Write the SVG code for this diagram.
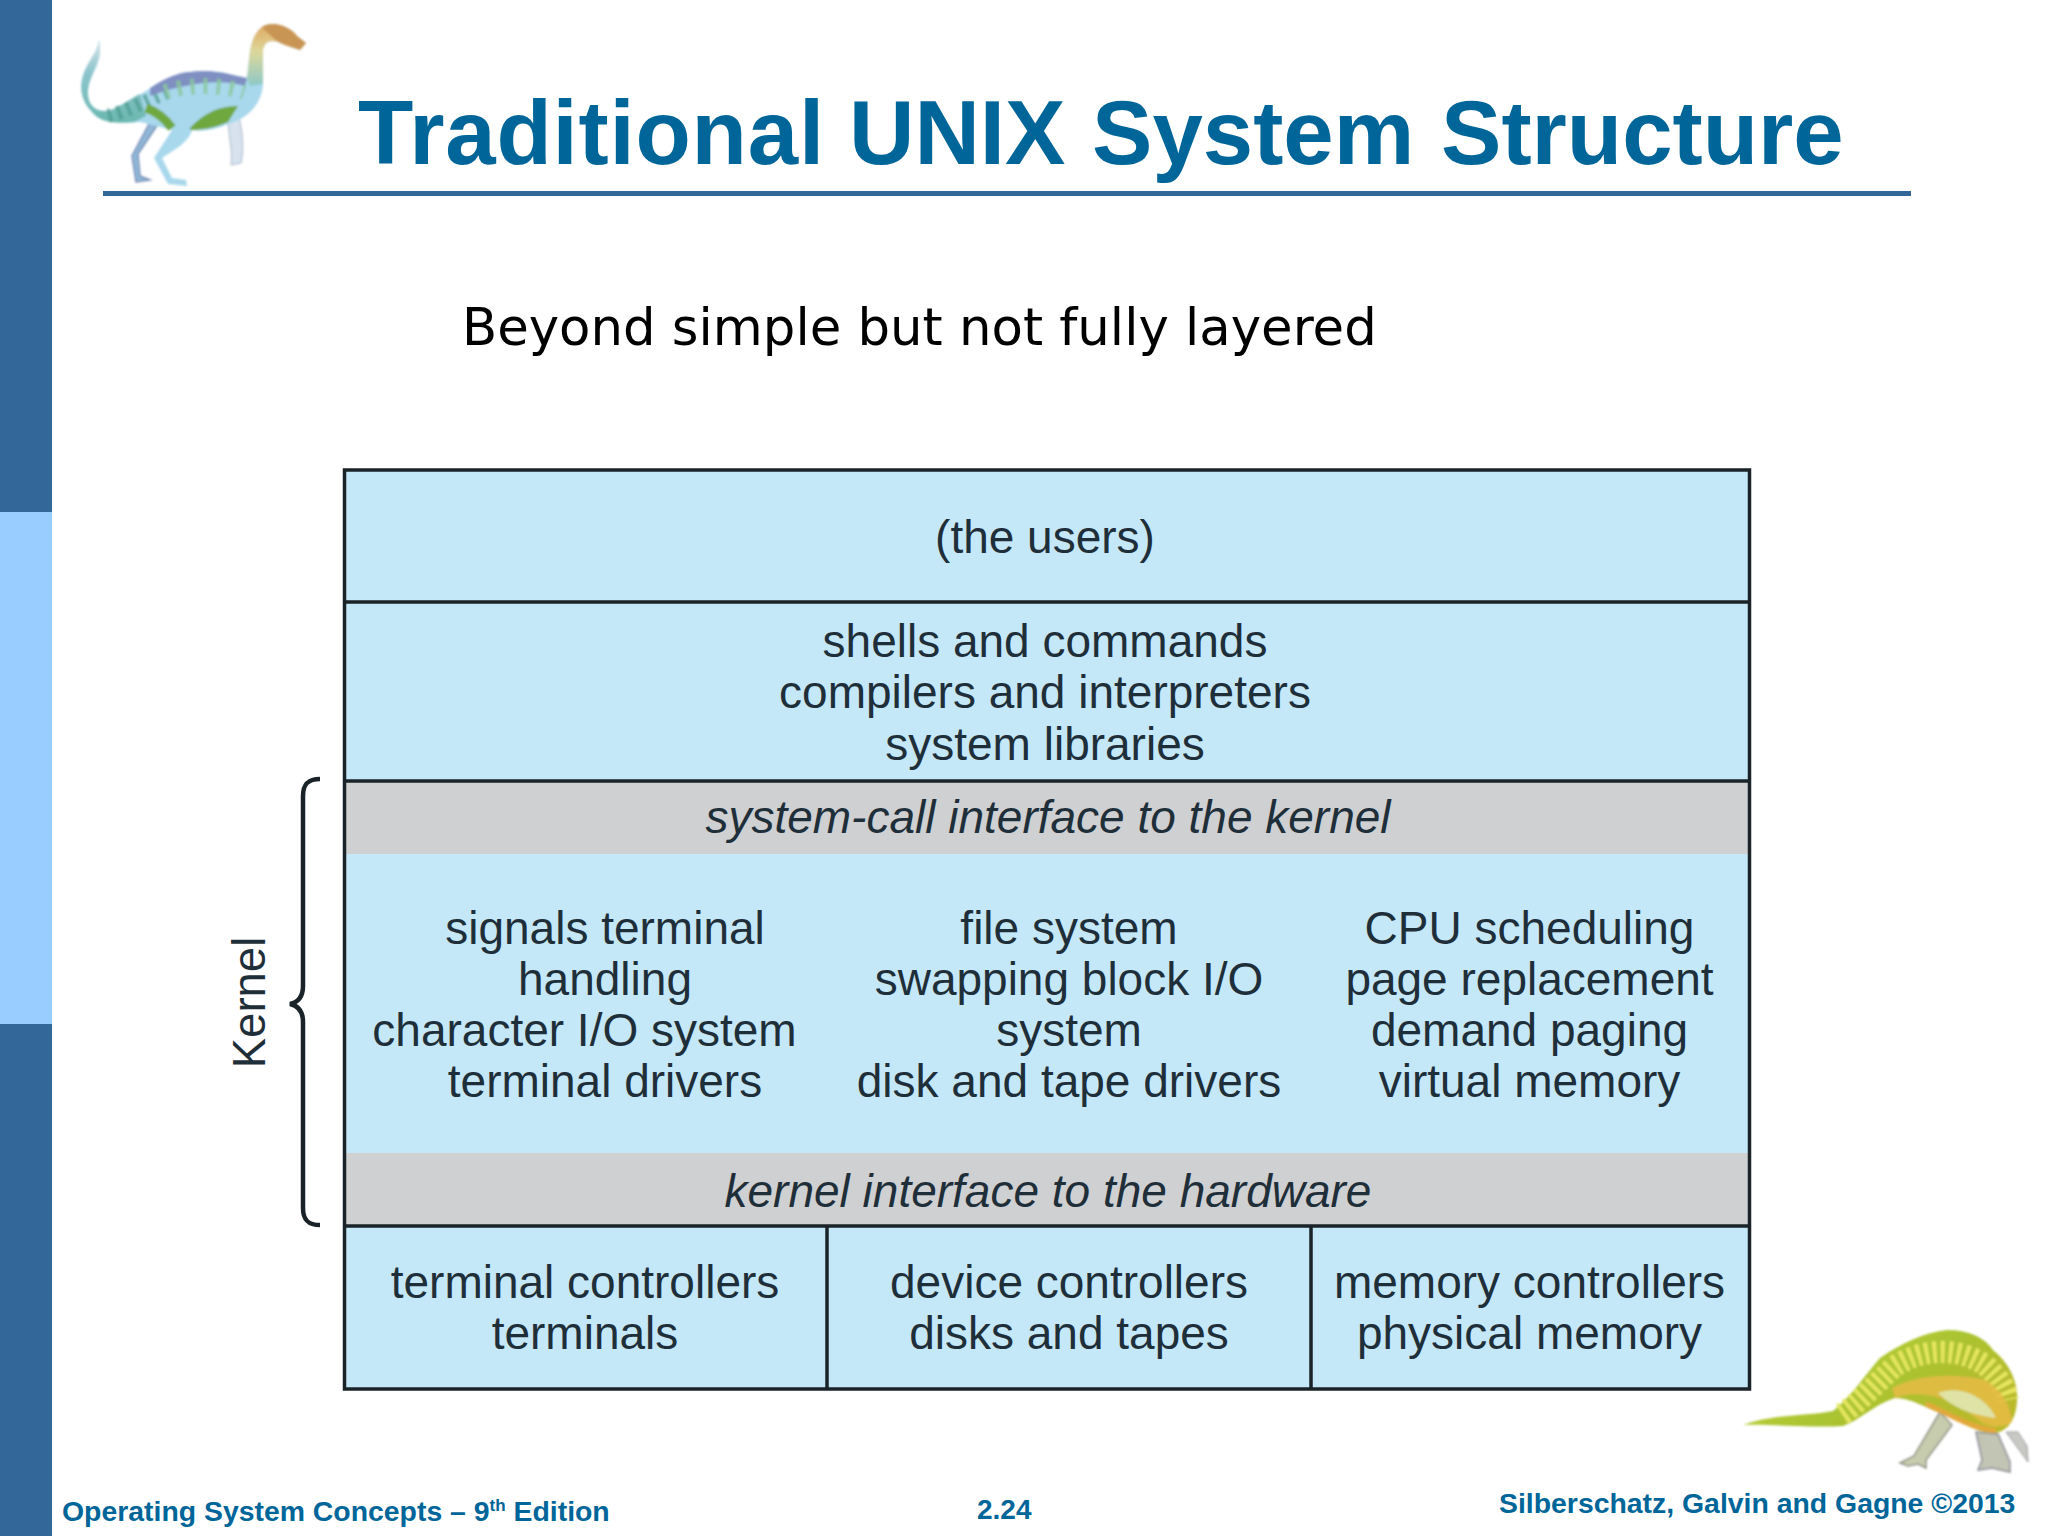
<svg xmlns="http://www.w3.org/2000/svg" width="2048" height="1536" viewBox="0 0 2048 1536">
<style>
.t{font-family:"Liberation Sans",Arial,sans-serif;font-size:46px;fill:#1f2f3a;text-anchor:middle}
.i{font-style:italic}
.b{fill:#c5e8f9}
.g{fill:#cfd0d2}
.ln{stroke:#1a2328;stroke-width:3.5;fill:none}
.f{font-family:"Liberation Sans",Arial,sans-serif;font-weight:bold;fill:#006699}
</style>
<defs>
<filter id="soft" x="-10%" y="-10%" width="120%" height="120%"><feGaussianBlur stdDeviation="0.8"/></filter>
<linearGradient id="neck" x1="0" y1="0" x2="0" y2="1"><stop offset="0" stop-color="#e2a860"/><stop offset="0.45" stop-color="#dcd79a"/><stop offset="1" stop-color="#8cc8c8"/></linearGradient>
<linearGradient id="tail" x1="0" y1="0" x2="0" y2="1"><stop offset="0" stop-color="#d7e6ea"/><stop offset="0.4" stop-color="#8cc4cc"/><stop offset="1" stop-color="#6cb8b0"/></linearGradient>
<linearGradient id="yellowBody" x1="0" y1="0" x2="1" y2="0.6"><stop offset="0" stop-color="#d0d844"/><stop offset="0.6" stop-color="#a9c430"/><stop offset="1" stop-color="#b9b92c"/></linearGradient>
</defs>
<rect width="2048" height="1536" fill="#fff"/>
<g id="sidebar">
<rect x="0" y="0" width="52" height="1536" fill="#336699"/>
<rect x="0" y="512" width="52" height="512" fill="#99ccff"/>
</g>
<g id="dino-blue" filter="url(#soft)">
<path d="M228 116L238 114C243 130 244 150 241 163L231 165C233 150 228 135 228 116Z" fill="#d7e2ee" stroke="#a9b8cc" stroke-width="1"/>
<path d="M158 124L138 154L140 176L150 180L136 182L132 156L150 122Z" fill="#8fb8d8" stroke="#7a90b8" stroke-width="1.5"/>
<path d="M99 40C104 62 90 72 88 90C87 104 94 112 108 111C132 104 160 76 190 72C215 68 235 76 247 78C250 60 248 38 262 27C272 20 290 26 297 36L306 43L300 50L288 46C275 40 265 38 263 50L263 84C262 102 250 118 228 124C215 130 200 132 192 130C190 138 184 142 180 146L162 158L172 178L186 180L187 186L168 184L154 158L172 130L140 122C120 124 100 122 92 112C80 100 78 84 86 68C92 56 98 50 99 40Z" fill="#a8d8ec"/>
<path d="M99 40C104 62 90 72 88 90C87 104 94 112 108 111C118 108 128 100 140 94L146 116L134 122C112 124 100 122 92 112C80 100 78 84 86 68C92 56 98 50 99 40Z" fill="url(#tail)"/>
<path d="M108 116C125 112 148 100 172 90" fill="none" stroke="#4f9e92" stroke-width="14" stroke-dasharray="4 6" opacity=".75"/>
<path d="M150 88C165 78 180 72 190 72C215 68 235 76 247 78L245 86C225 80 195 80 150 96Z" fill="#7f8fc2"/>
<path d="M165 92C190 84 220 84 244 92" fill="none" stroke="#8ac89a" stroke-width="16" stroke-dasharray="4 9" opacity=".8"/>
<path d="M247 78C250 60 248 38 262 27C272 20 290 26 297 36L306 43L300 50L288 46C275 40 265 38 263 50L263 84L250 86Z" fill="url(#neck)"/>
<path d="M262 27C272 20 290 26 297 36L306 43L300 50L288 46C280 44 272 38 262 27Z" fill="#c99555"/>
<path d="M190 128C205 112 220 106 238 106L228 122C215 128 202 130 190 130Z" fill="#6fa83f"/>
<path d="M146 108C158 112 166 120 172 128" fill="none" stroke="#6fa83f" stroke-width="9"/>
</g>
<g id="title">
<text class="f" y="164" font-size="90.6"><tspan x="358" letter-spacing="0.8">Traditional</tspan><tspan x="849">UNIX</tspan><tspan x="1092">System</tspan><tspan x="1441">Structure</tspan></text>
<rect x="103" y="191" width="1808" height="5" fill="#336699"/>
</g>
<g id="subtitle">
<text x="462" y="345" font-family="'DejaVu Sans',Verdana,sans-serif" font-size="51.3" fill="#000">Beyond simple but not fully layered</text>
</g>
<g id="row-users">
<rect class="b" x="344" y="470" width="1406" height="132"/>
<text class="t" x="1045" y="553">(the users)</text>
</g>
<g id="row-shells">
<rect class="b" x="344" y="602" width="1406" height="179"/>
<text class="t" x="1045" y="656.5">shells and commands</text>
<text class="t" x="1045" y="708">compilers and interpreters</text>
<text class="t" x="1045" y="759.5">system libraries</text>
</g>
<g id="row-syscall">
<rect class="g" x="344" y="781" width="1406" height="73"/>
<text class="t i" x="1048" y="833">system-call interface to the kernel</text>
</g>
<g id="row-kernel">
<rect class="b" x="344" y="854" width="1406" height="299"/>
<g id="kernel-signals">
<text class="t" x="605" y="943.5">signals terminal</text>
<text class="t" x="605" y="994.5">handling</text>
<text class="t" x="584.5" y="1045.5">character I/O system</text>
<text class="t" x="605" y="1097">terminal drivers</text>
</g>
<g id="kernel-files">
<text class="t" x="1069" y="943.5">file system</text>
<text class="t" x="1069" y="994.5">swapping block I/O</text>
<text class="t" x="1069" y="1045.5">system</text>
<text class="t" x="1069" y="1097">disk and tape drivers</text>
</g>
<g id="kernel-cpu">
<text class="t" x="1529.5" y="943.5">CPU scheduling</text>
<text class="t" x="1529.5" y="994.5">page replacement</text>
<text class="t" x="1529.5" y="1045.5">demand paging</text>
<text class="t" x="1529.5" y="1097">virtual memory</text>
</g>
</g>
<g id="row-hwif">
<rect class="g" x="344" y="1153" width="1406" height="72"/>
<text class="t i" x="1048" y="1206.5">kernel interface to the hardware</text>
</g>
<g id="row-controllers">
<rect class="b" x="344" y="1225" width="1406" height="164"/>
<g id="ctl-terminal">
<text class="t" x="585" y="1297.5">terminal controllers</text>
<text class="t" x="585" y="1348.5">terminals</text>
</g>
<g id="ctl-device">
<text class="t" x="1069" y="1297.5">device controllers</text>
<text class="t" x="1069" y="1348.5">disks and tapes</text>
</g>
<g id="ctl-memory">
<text class="t" x="1529.5" y="1297.5">memory controllers</text>
<text class="t" x="1529.5" y="1348.5">physical memory</text>
</g>
</g>
<g id="connectors">
<rect class="ln" x="344.5" y="470" width="1405" height="919"/>
<path class="ln" d="M344 602H1750M344 781H1750M344 1226H1750M827 1226V1389M1311 1226V1389"/>
<path d="M320 779C308 779 303 784 303 796V986C303 996 299 1002 290 1004C299 1006 303 1012 303 1022V1208C303 1220 308 1225 320 1225" fill="none" stroke="#1a2328" stroke-width="4.5"/>
</g>
<g id="kernel-label">
<text class="t" transform="translate(265 1002.5) rotate(-90)" style="font-size:45.5px">Kernel</text>
</g>
<g id="dino-yellow" filter="url(#soft)">
<path d="M1940 1412L1914 1456L1900 1463L1908 1466L1918 1464L1926 1468L1926 1460L1952 1425Z" fill="#c8ccae" stroke="#8f9484" stroke-width="1.5"/>
<path d="M1976 1432L1982 1460L1978 1470L1992 1468L2010 1472L2010 1462L1998 1434Z" fill="#c2c4b4" stroke="#8a8d98" stroke-width="1.5"/>
<path d="M2006 1432L2028 1462L2027 1446L2018 1432Z" fill="#c8c8c4" stroke="#9a9aa0" stroke-width="1"/>
<path d="M1743 1425C1770 1414 1810 1416 1833 1411C1850 1398 1866 1374 1880 1358C1900 1344 1925 1332 1947 1330C1970 1330 1985 1338 1993 1350C2008 1362 2016 1378 2017 1394C2018 1412 2012 1430 1996 1433C1975 1434 1960 1420 1945 1415C1925 1408 1912 1398 1895 1398C1875 1404 1860 1420 1843 1426C1810 1428 1770 1424 1743 1425Z" fill="url(#yellowBody)"/>
<path d="M1842 1414C1860 1402 1875 1384 1895 1366C1920 1350 1955 1345 1985 1365C2000 1378 2006 1390 2008 1400" fill="none" stroke="#e6e65e" stroke-width="22" stroke-dasharray="4 4"/>
<path d="M1892 1388C1915 1376 1950 1372 1985 1380C2002 1390 2010 1404 2012 1422C2000 1430 1985 1427 1975 1417C1950 1397 1920 1389 1895 1398Z" fill="#e6bb45" opacity=".85"/>
<path d="M1938 1393C1958 1385 1985 1395 1996 1418C1975 1416 1952 1408 1938 1393Z" fill="#dfe3a6"/>
<path d="M1926 1404C1950 1414 1970 1428 1996 1431" fill="none" stroke="#e3a83a" stroke-width="5"/>
</g>
<g id="footer">
<text class="f" x="62" y="1521" font-size="28.4">Operating System Concepts – 9<tspan font-size="17" dy="-10">th</tspan><tspan dy="10"> Edition</tspan></text>
<text class="f" x="977" y="1519" font-size="28">2.24</text>
<text class="f" x="1499" y="1513" font-size="28.4">Silberschatz, Galvin and Gagne ©2013</text>
</g>
</svg>
